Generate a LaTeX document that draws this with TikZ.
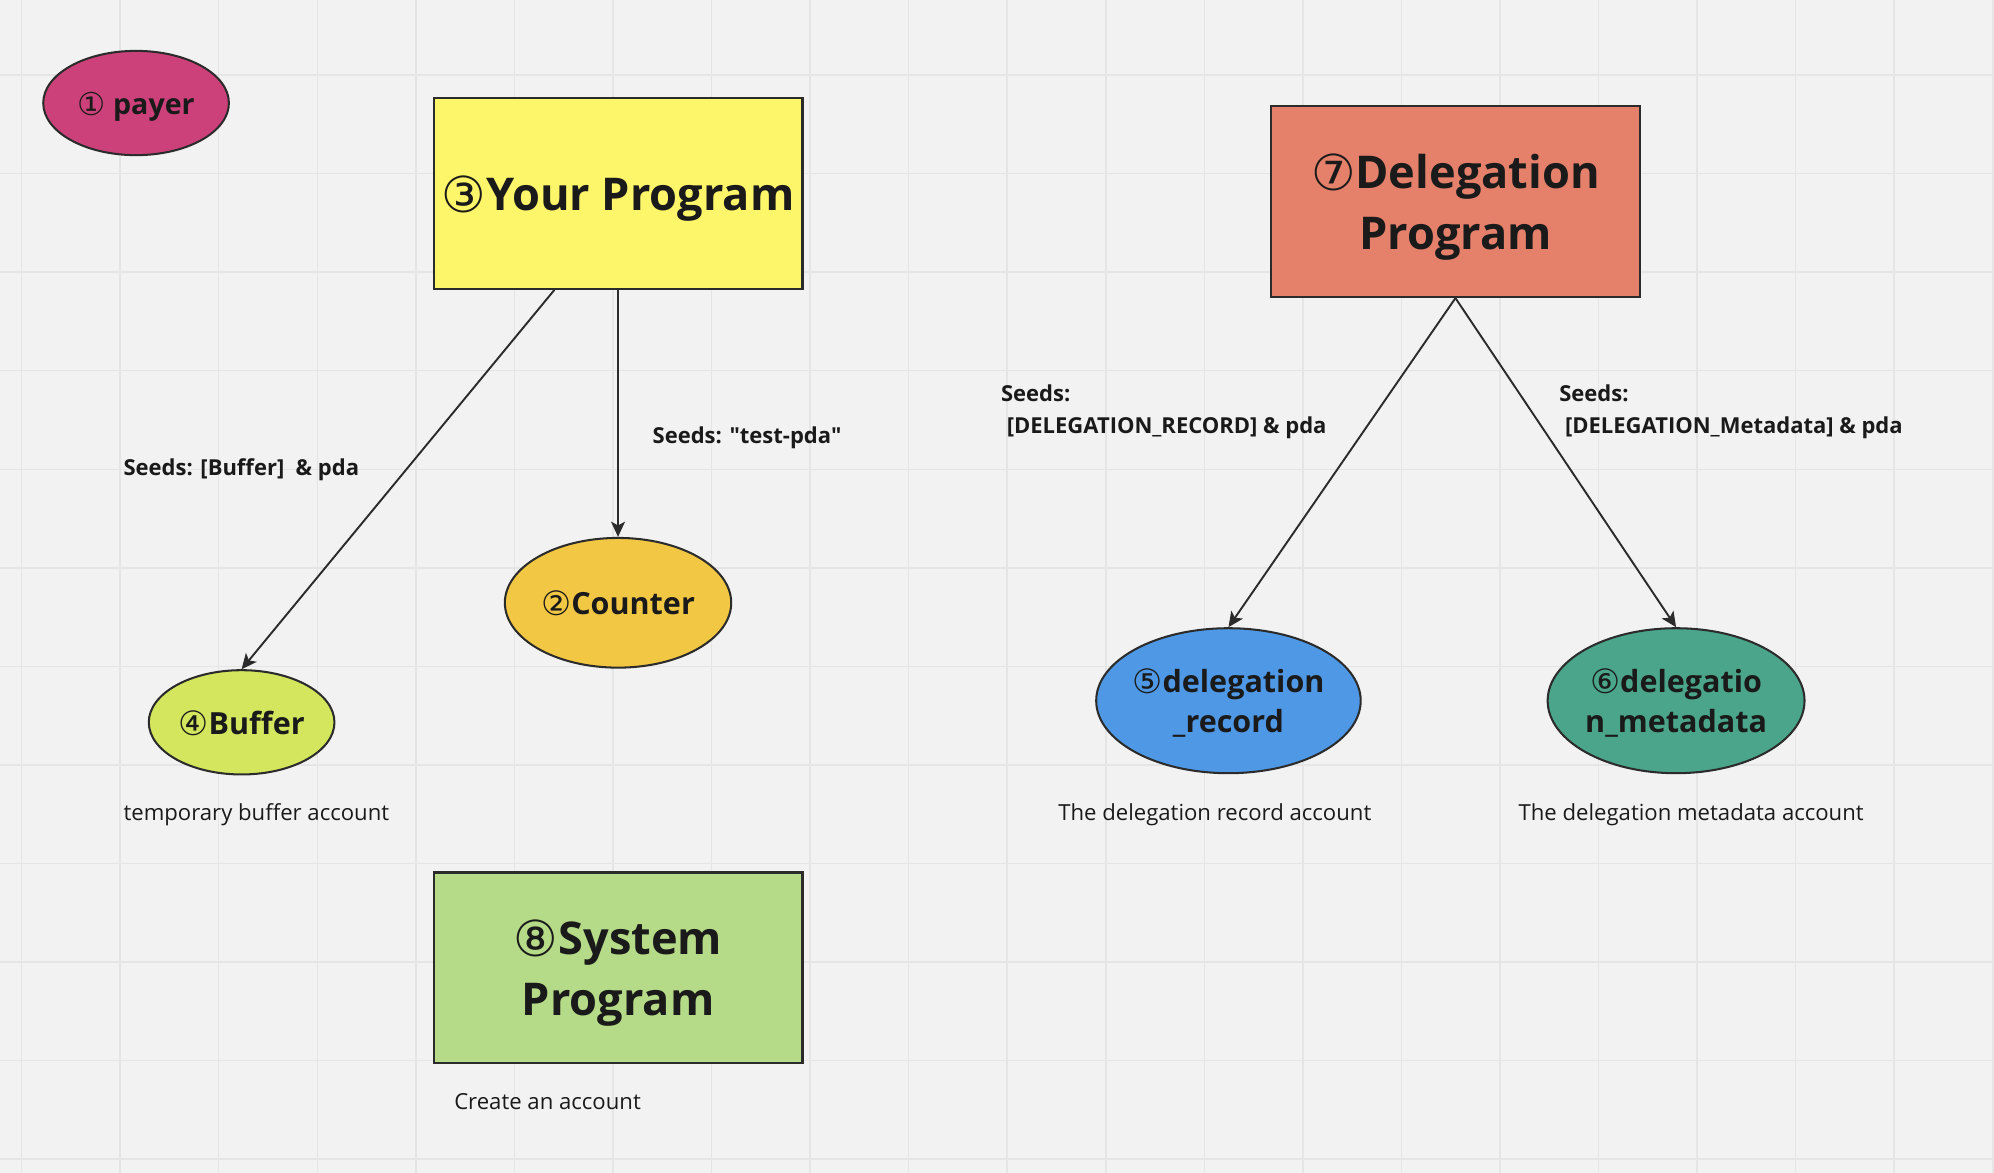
\documentclass[tikz,border=0pt]{standalone}
\usepackage{fontspec}
\usepackage{graphicx}
\setmainfont{Open Sans}
\newfontfamily\circfont{DejaVu Sans}
\usetikzlibrary{arrows.meta,shapes.geometric}
\definecolor{bg}{HTML}{F2F2F2}
\definecolor{gridc}{HTML}{E5E5E5}
\definecolor{ink}{HTML}{1A1A1A}
\definecolor{edge}{HTML}{2B2B2B}
\definecolor{cpayer}{HTML}{CC417A}
\definecolor{cyour}{HTML}{FDF56A}
\definecolor{cdeleg}{HTML}{E5806B}
\definecolor{csys}{HTML}{B6DB88}
\definecolor{ccount}{HTML}{F2C744}
\definecolor{cbuf}{HTML}{D3E65E}
\definecolor{crec}{HTML}{4F98E6}
\definecolor{cmeta}{HTML}{4AA58A}
\newcommand{\cn}[1]{\raisebox{-0.04em}{\scalebox{1.1}{\circfont\mdseries #1}}}
\newcommand{\zw}[1]{\makebox[0pt][c]{#1}}
\tikzset{
  box/.style={rectangle, draw=edge, line width=1.8pt, minimum width=290pt, minimum height=150pt, inner sep=0pt, align=center, text=ink, text depth=0pt, font=\bfseries\fontsize{35.5}{48}\selectfont},
  oval/.style={ellipse, draw=edge, line width=1.6pt, inner sep=0pt, align=center, text=ink, text depth=0pt, font=\bfseries\fontsize{24}{32}\selectfont},
  arr/.style={draw=edge, line width=1.5pt, -{Stealth[length=12pt,width=11pt,inset=3pt]}},
  seed/.style={anchor=west, align=left, text=ink, font=\bfseries\fontsize{17.3}{25}\selectfont, inner sep=0pt},
  note/.style={anchor=west, text=ink, font=\fontsize{17.4}{20}\selectfont, inner sep=0pt},
}
\begin{document}
\begin{tikzpicture}[x=1pt,y=-1pt]
\useasboundingbox (0,0) rectangle (1568,922);
\fill[bg] (0,0) rectangle (1568,922);
\foreach \k in {0,...,20} {\draw[gridc, line width=1.2pt] ({17+77.5*\k},0) -- ({17+77.5*\k},922);}
\foreach \k in {0,...,11} {\draw[gridc, line width=1.2pt] (0,{59+77.5*\k}) -- (1568,{59+77.5*\k});}

\node[oval, fill=cpayer, minimum width=146pt, minimum height=82pt, font=\bfseries\fontsize{22.5}{32}\selectfont] (payer) at (107,81) {\cn{①} payer};
\node[box, fill=cyour] (yp) at (486,152) {\cn{③}Your Program};
\node[box, fill=cdeleg] (dp) at (1144.5,158.5) {\cn{⑦}Delegation\\Program};
\node[box, fill=csys] (sp) at (486,761) {\cn{⑧}System\\Program};
\node[oval, fill=ccount, minimum width=178pt, minimum height=102pt] (counter) at (486,474) {\zw{\cn{②}Counter}};
\node[oval, fill=cbuf, minimum width=146pt, minimum height=82pt] (buf) at (190,568) {\zw{\cn{④}Buffer}};
\node[oval, fill=crec, minimum width=208pt, minimum height=114pt] (rec) at (966,551) {\zw{\cn{⑤}delegation}\\\zw{\_record}};
\node[oval, fill=cmeta, minimum width=202pt, minimum height=114pt] (meta) at (1318,551) {\zw{\cn{⑥}delegatio}\\\zw{n\_metadata}};

\draw[arr] ([xshift=-50pt]yp.south) -- (buf.north);
\draw[arr] (yp.south) -- (counter.north);
\draw[arr] (dp.south) -- (rec.north);
\draw[arr] (dp.south) -- (meta.north);

\node[seed] (s1) at (97,369) {Seeds: [Buffer]\ \ \& pda};
\node[seed] (s2) at (513,344) {Seeds: \textquotedbl test-pda\textquotedbl};
\node[seed] (s3) at (787,323.5) {Seeds:\\\ [DELEGATION\_RECORD] \& pda};
\node[seed] (s4) at (1226,323.5) {Seeds:\\\ [DELEGATION\_Metadata] \& pda};

\node[note] (n1) at (97,641) {temporary buffer account};
\node[note] (n2) at (832,641) {The delegation record account};
\node[note] (n3) at (1194,641) {The delegation metadata account};
\node[note] (n4) at (357,866) {Create an account};
\end{tikzpicture}
\end{document}
